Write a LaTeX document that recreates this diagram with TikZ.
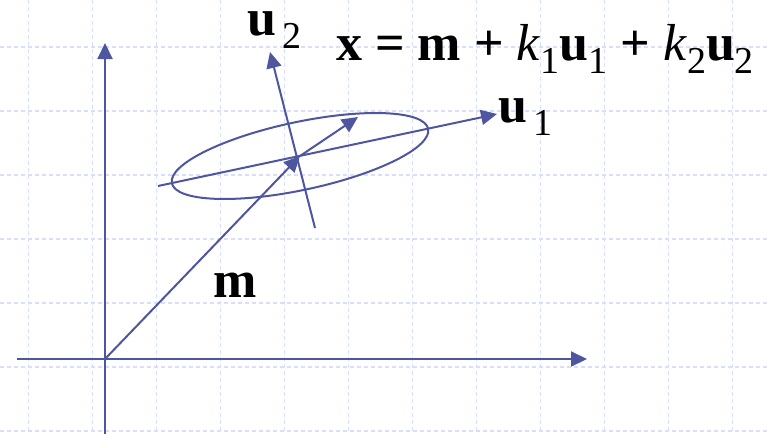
\documentclass[tikz,border=0pt]{standalone}
\usepackage{fontspec}
\setmainfont{Liberation Serif}
\usepackage{tikz}
\usetikzlibrary{arrows.meta,positioning,calc}
\definecolor{vecblue}{RGB}{78,86,160}
\definecolor{gridblue}{RGB}{214,224,252}
\newcommand{\lsub}[1]{\raisebox{-13pt}{\fontsize{38}{40}\selectfont\mdseries #1}}
\tikzset{
  gridline/.style={gridblue, line width=1.2pt, dash pattern=on 4pt off 3pt},
  axisline/.style={vecblue, line width=2pt},
  vecarrow/.style={vecblue, line width=2pt,
    -{Triangle[length=16pt,width=15pt]}},
  biglabel/.style={inner sep=0pt, anchor=base west,
    font=\fontsize{52}{56}\selectfont}
}

\begin{document}
\begin{tikzpicture}[x=1pt, y=-1pt]
  \useasboundingbox (0,0) rectangle (767,434);
  % background grid
  \foreach \gx in {0,...,11}
    \draw[gridline] ({28.5+64*\gx},0) -- ({28.5+64*\gx},434);
  \foreach \gy in {0,...,6}
    \draw[gridline] (0,{47+64*\gy}) -- (767,{47+64*\gy});

  % points
  \coordinate (orig) at (105,359);
  \coordinate (ytop) at (105,43);
  \coordinate (ybot) at (105,434);
  \coordinate (xleft) at (17,359);
  \coordinate (xright) at (587,359);
  \coordinate (mean) at (300,156);
  \coordinate (step1) at (358,117);
  \coordinate (u1tail) at (158,186);
  \coordinate (u1head) at (497,114);
  \coordinate (u2tail) at (315,228);
  \coordinate (u2head) at (270,52);

  % axes
  \draw[axisline] (xleft) -- (orig);
  \draw[vecarrow] (orig) -- (xright);
  \draw[axisline] (ybot) -- (orig);
  \draw[vecarrow] (orig) -- (ytop);

  % ellipse and principal axes
  \draw[axisline, rotate around={12:(mean)}] (mean) ellipse [x radius=131pt, y radius=34pt];
  \draw[vecarrow] (u1tail) -- (u1head);
  \draw[vecarrow] (u2tail) -- (u2head);
  \draw[vecarrow] (orig) -- (mean);
  \draw[vecarrow] (mean) -- (step1);

  % labels
  \node[biglabel] (lblm) at (213,297) {\textbf{m}};
  \node[biglabel] (lblu1) at (498,122) {\textbf{u}\lsub{\,1}};
  \node[biglabel] (lblu2) at (247,35) {\textbf{u}\lsub{\,2}};
  \node[biglabel] (eqn) at (336,60)
    {\bfseries x = m + \textit{\mdseries k}\lsub{1}u\lsub{1} + \textit{\mdseries k}\lsub{2}u\lsub{2}};
\end{tikzpicture}
\end{document}
